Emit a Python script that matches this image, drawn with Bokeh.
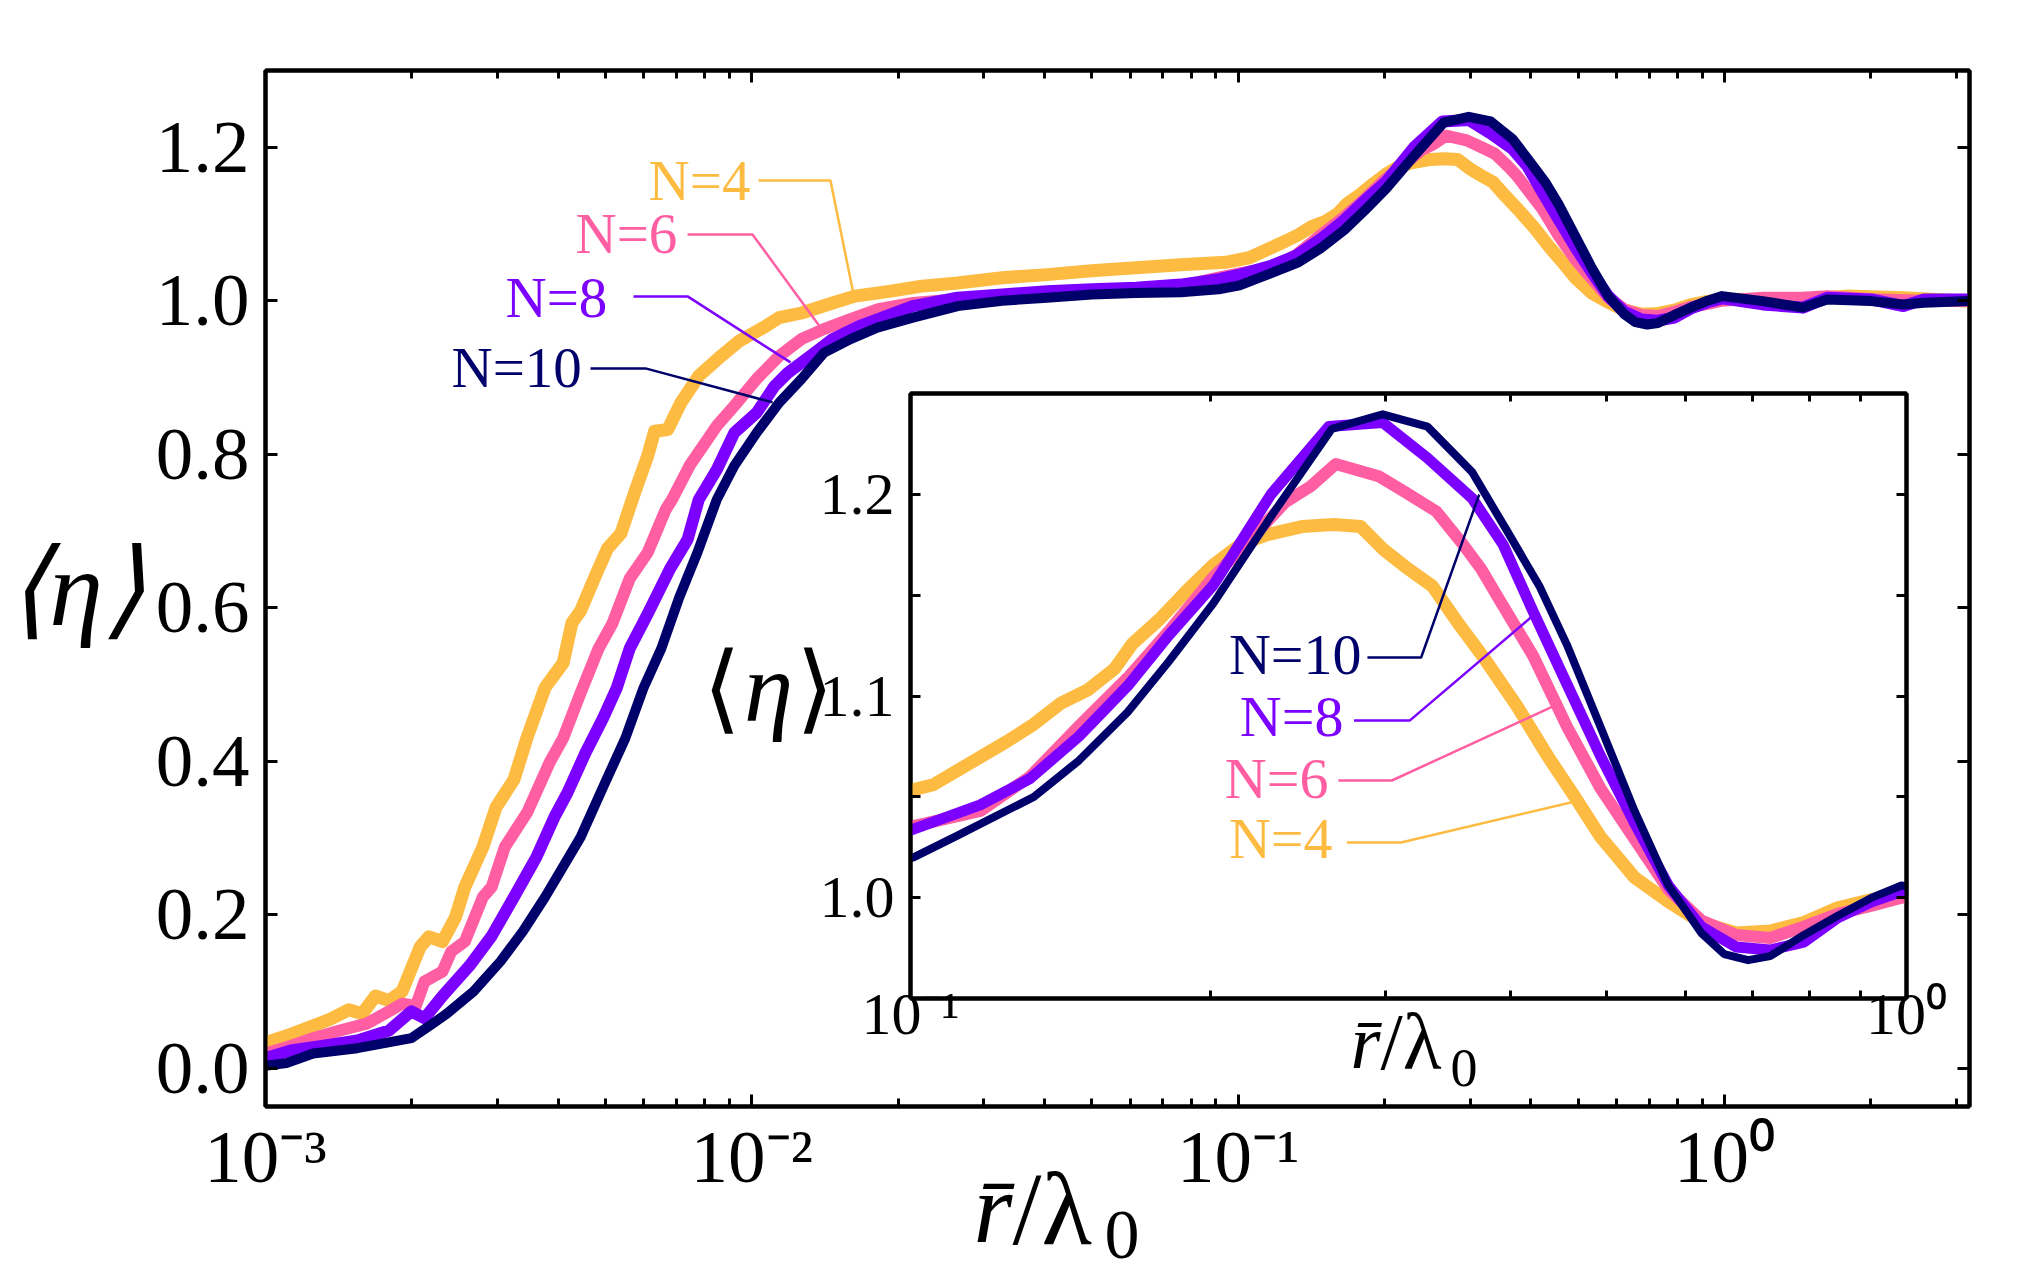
from bokeh.plotting import figure
from bokeh.models import (LogAxis, LinearAxis, FixedTicker, CustomJSTickFormatter,
                          PrintfTickFormatter, Label, Range1d)
from bokeh.layouts import column
from bokeh.embed import file_html
from bokeh.resources import INLINE

SERIF = "Liberation Serif"
PAGE_W, PAGE_H = 2031, 1279
# shared horizontal borders (plots stacked in one column share them)
BORDER_L, BORDER_R = 265, 62

# ---- data: <eta> versus r/lambda0 for each N ----
series_names = ["N=4", "N=6", "N=8", "N=10"]
series_colors = ["#FDBB42", "#FF5FA2", "#7B00FF", "#00006B"]

r_n4 = [0.001000, 0.001127, 0.001253, 0.001361, 0.001483, 0.001581, 0.001683, 0.001795,
        0.001910, 0.002080, 0.002168, 0.002312, 0.002460, 0.002570, 0.002799, 0.002979,
        0.003243, 0.003451, 0.003758, 0.004093, 0.004266, 0.004446, 0.004742, 0.005047,
        0.005383, 0.005741, 0.006109, 0.006310, 0.006714, 0.007145, 0.007780, 0.008650,
        0.009397, 0.01069, 0.01138, 0.01265, 0.01466, 0.01629, 0.01932, 0.02239,
        0.02649, 0.03273, 0.04046, 0.05000, 0.06166, 0.07621, 0.09419, 0.1054,
        0.1250, 0.1330, 0.1416, 0.1507, 0.1603, 0.1671, 0.1778, 0.1892,
        0.2014, 0.2143, 0.2280, 0.2472, 0.2661, 0.2831, 0.2979, 0.3141,
        0.3342, 0.3548, 0.3776, 0.4064, 0.4365, 0.4645, 0.4932, 0.5333,
        0.5768, 0.6223, 0.6745, 0.7295, 0.7889, 0.8531, 0.9226, 0.9886,
        1.199, 1.449, 1.778, 2.333, 3.126, 3.19]
eta_n4 = [0.033, 0.044, 0.055, 0.064, 0.076, 0.071, 0.094, 0.088,
          0.100, 0.158, 0.171, 0.165, 0.197, 0.236, 0.288, 0.340,
          0.376, 0.431, 0.496, 0.528, 0.580, 0.596, 0.638, 0.677,
          0.697, 0.750, 0.798, 0.830, 0.832, 0.867, 0.902, 0.928,
          0.947, 0.967, 0.978, 0.984, 0.997, 1.006, 1.0125, 1.019,
          1.023, 1.030, 1.034, 1.039, 1.043, 1.047, 1.050, 1.056,
          1.0775, 1.086, 1.0965, 1.103, 1.1135, 1.126, 1.138, 1.152,
          1.165, 1.175, 1.180, 1.184, 1.185, 1.184, 1.173, 1.164,
          1.1545, 1.136, 1.118, 1.095, 1.070, 1.050, 1.030, 1.010,
          0.998, 0.9877, 0.9825, 0.9835, 0.9877, 0.995, 0.999, 1.002,
          1.0017, 1.002, 1.006, 1.004, 0.9995, 1.000]

r_n6 = [0.001000, 0.001127, 0.001253, 0.001422, 0.001614, 0.001795, 0.001910, 0.002037,
        0.002123, 0.002312, 0.002410, 0.002570, 0.002799, 0.002917, 0.003105, 0.003451,
        0.003837, 0.004093, 0.004446, 0.004842, 0.005164, 0.005610, 0.006109, 0.006653,
        0.006855, 0.007447, 0.008472, 0.009204, 0.01023, 0.01138, 0.01265, 0.01406,
        0.01596, 0.01820, 0.02143, 0.02649, 0.03273, 0.04046, 0.05000, 0.06166,
        0.07621, 0.09120, 0.1007, 0.1175, 0.1318, 0.1476, 0.1652, 0.1816,
        0.2014, 0.2208, 0.2377, 0.2523, 0.2673, 0.2951, 0.3141, 0.3373,
        0.3589, 0.3741, 0.3899, 0.4217, 0.4560, 0.4932, 0.5333, 0.5768,
        0.6223, 0.6745, 0.7295, 0.7889, 0.8531, 0.9226, 0.9886, 1.199,
        1.449, 1.626, 2.004, 2.570, 3.19]
eta_n6 = [0.019, 0.029, 0.039, 0.049, 0.058, 0.074, 0.084, 0.081,
          0.113, 0.126, 0.152, 0.165, 0.223, 0.236, 0.288, 0.333,
          0.398, 0.430, 0.489, 0.547, 0.579, 0.638, 0.672, 0.728,
          0.741, 0.785, 0.837, 0.863, 0.898, 0.928, 0.950, 0.963,
          0.976, 0.989, 0.997, 1.002, 1.004, 1.006, 1.010, 1.0125,
          1.019, 1.030, 1.0355, 1.043, 1.060, 1.085, 1.109, 1.132,
          1.159, 1.179, 1.196, 1.204, 1.215, 1.209, 1.201, 1.1915,
          1.175, 1.163, 1.148, 1.120, 1.085, 1.054, 1.029, 1.004,
          0.9887, 0.9815, 0.980, 0.9856, 0.992, 0.996, 1.000, 1.004,
          1.004, 1.006, 1.002, 1.000, 0.9995]

r_n8 = [0.001000, 0.001127, 0.001306, 0.001545, 0.001795, 0.001995, 0.002123, 0.002312,
        0.002624, 0.002917, 0.003243, 0.003606, 0.003926, 0.004178, 0.004550, 0.004943,
        0.005272, 0.005610, 0.006109, 0.006792, 0.007379, 0.007780, 0.008472, 0.009204,
        0.01023, 0.01114, 0.01186, 0.01346, 0.01466, 0.01663, 0.01888, 0.02143,
        0.02649, 0.03273, 0.04046, 0.05000, 0.06166, 0.07621, 0.09120, 0.1007,
        0.1175, 0.1318, 0.1476, 0.1652, 0.1816, 0.2014, 0.2301, 0.2630,
        0.2979, 0.3304, 0.3664, 0.3936, 0.4217, 0.4560, 0.4932, 0.5333,
        0.5768, 0.6223, 0.6745, 0.7295, 0.7889, 0.8531, 0.9226, 0.9886,
        1.199, 1.449, 1.626, 2.004, 2.333, 2.570, 3.19]
eta_n8 = [0.013, 0.023, 0.029, 0.036, 0.049, 0.074, 0.065, 0.094,
          0.133, 0.172, 0.223, 0.275, 0.327, 0.359, 0.411, 0.456,
          0.495, 0.547, 0.592, 0.651, 0.689, 0.741, 0.780, 0.828,
          0.854, 0.889, 0.906, 0.932, 0.950, 0.967, 0.980, 0.993,
          1.004, 1.008, 1.0125, 1.015, 1.017, 1.021, 1.028, 1.034,
          1.046, 1.059, 1.080, 1.105, 1.130, 1.155, 1.200, 1.2336,
          1.2356, 1.218, 1.198, 1.175, 1.142, 1.106, 1.070, 1.037,
          1.006, 0.9856, 0.9755, 0.974, 0.978, 0.990, 0.998, 1.003,
          0.9952, 0.991, 1.0039, 1.0017, 0.993, 1.0017, 1.0017]

r_n10 = [0.001000, 0.001104, 0.001253, 0.001545, 0.001995, 0.002173, 0.002360, 0.002679,
         0.003041, 0.003381, 0.003758, 0.004446, 0.004943, 0.005495, 0.005984, 0.006516,
         0.007079, 0.007709, 0.008472, 0.009204, 0.01023, 0.01138, 0.01265, 0.01406,
         0.01596, 0.01811, 0.02143, 0.02649, 0.03273, 0.04046, 0.05000, 0.06166,
         0.07621, 0.09120, 0.1007, 0.1117, 0.1330, 0.1476, 0.1652, 0.1816,
         0.2014, 0.2301, 0.2649, 0.2979, 0.3304, 0.3664, 0.3981, 0.4285,
         0.4560, 0.4932, 0.5333, 0.5768, 0.6223, 0.6561, 0.6934, 0.7295,
         0.7889, 0.8531, 0.9226, 0.9886, 1.199, 1.449, 1.626, 2.004,
         2.333, 2.570, 3.19]
eta_n10 = [0.003, 0.0065, 0.019, 0.026, 0.039, 0.055, 0.071, 0.100,
           0.139, 0.178, 0.223, 0.301, 0.366, 0.430, 0.495, 0.547,
           0.612, 0.670, 0.741, 0.785, 0.828, 0.867, 0.898, 0.932,
           0.950, 0.965, 0.978, 0.993, 1.000, 1.004, 1.008, 1.010,
           1.011, 1.015, 1.020, 1.031, 1.050, 1.068, 1.092, 1.117,
           1.146, 1.189, 1.2325, 1.2397, 1.2336, 1.211, 1.181, 1.154,
           1.1255, 1.0844, 1.043, 1.006, 0.9825, 0.972, 0.969, 0.971,
           0.9815, 0.991, 1.000, 1.006, 0.9995, 0.991, 1.0017, 0.9995,
           0.9952, 0.9974, 0.9995]

series_r = [r_n4, r_n6, r_n8, r_n10]
series_eta = [eta_n4, eta_n6, eta_n8, eta_n10]

# tick values
main_y_ticks = [0.0, 0.2, 0.4, 0.6, 0.8, 1.0, 1.2]
main_x_major = [1e-3, 1e-2, 1e-1, 1.0]
inset_y_ticks = [1.0, 1.1, 1.2]
inset_y_minor = [1.05, 1.15]
inset_x_major = [0.1, 1.0]

# ---- helpers ----
POW10_CODE = """
const sup = {"-": "\u207b", "0": "\u2070", "1": "\u00b9", "2": "\u00b2", "3": "\u00b3"};
const e = Math.round(Math.log10(tick));
return "10" + String(e).split("").map(c => sup[c]).join("");
"""


def decade_minors(lo, hi):
    out = []
    for e in range(-4, 2):
        for m in range(2, 10):
            v = m * 10.0 ** e
            if lo < v < hi:
                out.append(v)
    return out


def style_axis(ax, label_size, tick_in, minor_in):
    ax.axis_line_color = "black"
    ax.axis_line_width = 4
    ax.major_tick_in = tick_in
    ax.major_tick_out = 0
    ax.minor_tick_in = minor_in
    ax.minor_tick_out = 0
    ax.major_tick_line_width = 3
    ax.minor_tick_line_width = 3
    ax.major_tick_line_color = "black"
    ax.minor_tick_line_color = "black"
    ax.major_label_text_font = SERIF
    ax.major_label_text_font_size = label_size
    ax.major_label_text_color = "black"


def blank():
    return CustomJSTickFormatter(code="return '';")


def add_text(fig, x, y, text, size, color="black", align="left",
             baseline="alphabetic", style="normal"):
    fig.add_layout(Label(x=x, y=y, text=text, text_font=SERIF, text_font_size=size,
                         text_color=color, text_align=align, text_baseline=baseline,
                         text_font_style=style))


# ---- main figure ----
X_LO, X_HI = 1e-3, 3.19
p = figure(width=PAGE_W, height=PAGE_H, x_axis_type="log",
           x_range=Range1d(X_LO, X_HI), y_range=Range1d(-0.05, 1.3),
           output_backend="svg", toolbar_location=None,
           min_border_left=BORDER_L, min_border_right=BORDER_R,
           min_border_top=70, min_border_bottom=173,
           background_fill_color="white", border_fill_color="white",
           outline_line_color="black", outline_line_width=4)
p.xgrid.visible = False
p.ygrid.visible = False

main_minor = decade_minors(X_LO, X_HI)
p.xaxis.ticker = FixedTicker(ticks=main_x_major, minor_ticks=main_minor)
p.xaxis.formatter = CustomJSTickFormatter(code=POW10_CODE)
p.xaxis.major_label_standoff = 8
style_axis(p.xaxis[0], "75px", 12, 8)

p.yaxis.ticker = FixedTicker(ticks=main_y_ticks)
p.yaxis.formatter = PrintfTickFormatter(format="%.1f")
p.yaxis.major_label_standoff = 16
style_axis(p.yaxis[0], "75px", 12, 0)
p.yaxis.minor_tick_line_color = None
p.yaxis.axis_label = "\u27e8\u03b7\u27e9"
p.yaxis.axis_label_orientation = "horizontal"
p.yaxis.axis_label_text_font = SERIF
p.yaxis.axis_label_text_font_size = "108px"
p.yaxis.axis_label_text_font_style = "italic"
p.yaxis.axis_label_text_color = "black"
p.yaxis.axis_label_standoff = 8

top_ax = LogAxis(ticker=FixedTicker(ticks=main_x_major, minor_ticks=main_minor),
                 formatter=blank())
style_axis(top_ax, "1px", 12, 8)
p.add_layout(top_ax, "above")
right_ax = LinearAxis(ticker=FixedTicker(ticks=main_y_ticks), formatter=blank())
style_axis(right_ax, "1px", 12, 0)
right_ax.minor_tick_line_color = None
p.add_layout(right_ax, "right")

main_widths = [13, 12, 12, 10]
for r, eta, c, w in zip(series_r, series_eta, series_colors, main_widths):
    p.line(r, eta, line_color=c, line_width=w, line_join="round")

# curve tags with leader lines
main_tag_x = [0.006133, 0.004340, 0.003115, 0.002413]
main_tag_y = [1.157, 1.0879, 1.0046, 0.9133]
main_lead_x = [[0.01032, 0.01451, 0.01619], [0.007377, 0.010032, 0.01384],
               [0.005710, 0.007377, 0.01201], [0.004659, 0.006044, 0.011033]]
main_lead_y = [[1.1567, 1.1567, 1.0082], [1.0864, 1.0864, 0.9652],
               [1.0056, 1.0056, 0.9196], [0.9118, 0.9118, 0.8675]]
for name, c, tx, ty, lx, ly in zip(series_names, series_colors, main_tag_x, main_tag_y,
                                   main_lead_x, main_lead_y):
    p.line(lx, ly, line_color=c, line_width=2.5)
    add_text(p, tx, ty, name, "57px", color=c)

# ---- inset figure (frame spans page x 910..1906, y 393..998) ----
IN_FRAME_W = 996
IN_LEFT, IN_TOP = 910 - BORDER_L, 373
IN_W, IN_H = BORDER_L + IN_FRAME_W + BORDER_R, 725
q = figure(width=IN_W, height=IN_H, x_axis_type="log",
           x_range=Range1d(0.1, 1.0), y_range=Range1d(0.95, 1.25),
           output_backend="svg", toolbar_location=None,
           min_border_left=BORDER_L, min_border_right=BORDER_R,
           min_border_top=20, min_border_bottom=100,
           background_fill_color="white", border_fill_color=None,
           outline_line_color="black", outline_line_width=4)
q.xgrid.visible = False
q.ygrid.visible = False

inset_minor = decade_minors(0.1, 1.0)
q.xaxis.ticker = FixedTicker(ticks=inset_x_major, minor_ticks=inset_minor)
q.xaxis.formatter = CustomJSTickFormatter(code=POW10_CODE)
q.xaxis.major_label_standoff = -18
style_axis(q.xaxis[0], "60px", 10, 8)

q.yaxis.ticker = FixedTicker(ticks=inset_y_ticks, minor_ticks=inset_y_minor)
q.yaxis.formatter = PrintfTickFormatter(format="%.1f")
q.yaxis.major_label_standoff = 16
style_axis(q.yaxis[0], "60px", 10, 10)

q_top = LogAxis(ticker=FixedTicker(ticks=inset_x_major, minor_ticks=inset_minor),
                formatter=blank())
style_axis(q_top, "1px", 10, 8)
q.add_layout(q_top, "above")
q_right = LinearAxis(ticker=FixedTicker(ticks=inset_y_ticks, minor_ticks=inset_y_minor),
                     formatter=blank())
style_axis(q_right, "1px", 10, 10)
q.add_layout(q_right, "right")

inset_widths = [13, 12, 11, 8]
for r, eta, c, w in zip(series_r, series_eta, series_colors, inset_widths):
    q.line(r, eta, line_color=c, line_width=w, line_join="round")

inset_tag_x = [0.2088, 0.2068, 0.2141, 0.2088]
inset_tag_y = [1.0294, 1.0591, 1.0898, 1.1206]
inset_lead_x = [[0.2743, 0.3108, 0.4648], [0.2689, 0.3043, 0.4438],
                [0.2788, 0.3173, 0.4195], [0.2876, 0.3256, 0.3724]]
inset_lead_y = [[1.0274, 1.0274, 1.0477], [1.0581, 1.0581, 1.0953],
                [1.0879, 1.0879, 1.1389], [1.1191, 1.1191, 1.1999]]
for name, c, tx, ty, lx, ly in zip(series_names, series_colors, inset_tag_x, inset_tag_y,
                                   inset_lead_x, inset_lead_y):
    q.line(lx, ly, line_color=c, line_width=2.5)
    add_text(q, tx, ty, name, "58px", color=c)

# ---- transparent layer carrying the remaining axis titles (page pixels, y down) ----
t = figure(width=PAGE_W, height=PAGE_H,
           x_range=Range1d(BORDER_L, PAGE_W - BORDER_R), y_range=Range1d(PAGE_H, 0),
           x_axis_location=None, y_axis_location=None,
           min_border_left=BORDER_L, min_border_right=BORDER_R,
           min_border_top=0, min_border_bottom=0,
           output_backend="svg", toolbar_location=None,
           background_fill_color=None, border_fill_color=None, outline_line_color=None)
t.grid.visible = False

# main x title  r-bar / lambda_0
add_text(t, 1012, 1208, "r\u0304", "100px", align="right", style="italic")
add_text(t, 1012, 1208, "/\u03bb", "104px", align="left")
add_text(t, 1104, 1234, "0", "70px", align="left")
# inset y title
add_text(t, 740, 688, "\u27e8", "97px", align="right")
add_text(t, 768, 687, "\u03b7", "99px", align="center", style="italic")
add_text(t, 795, 688, "\u27e9", "97px", align="left")
# inset x title
add_text(t, 1380, 1041, "r\u0304", "77px", align="right", style="italic")
add_text(t, 1380, 1041, "/\u03bb", "80px", align="left")
add_text(t, 1450, 1067, "0", "54px", align="left")

# stack: main panel, inset on top of it, title layer on top of both
q.margin = (IN_TOP - PAGE_H, 0, PAGE_H - IN_TOP - IN_H, IN_LEFT)
t.margin = (-PAGE_H, 0, 0, 0)
layout = column(p, q, t)

with open("out.html", "w") as f:
    f.write(file_html(layout, INLINE))
